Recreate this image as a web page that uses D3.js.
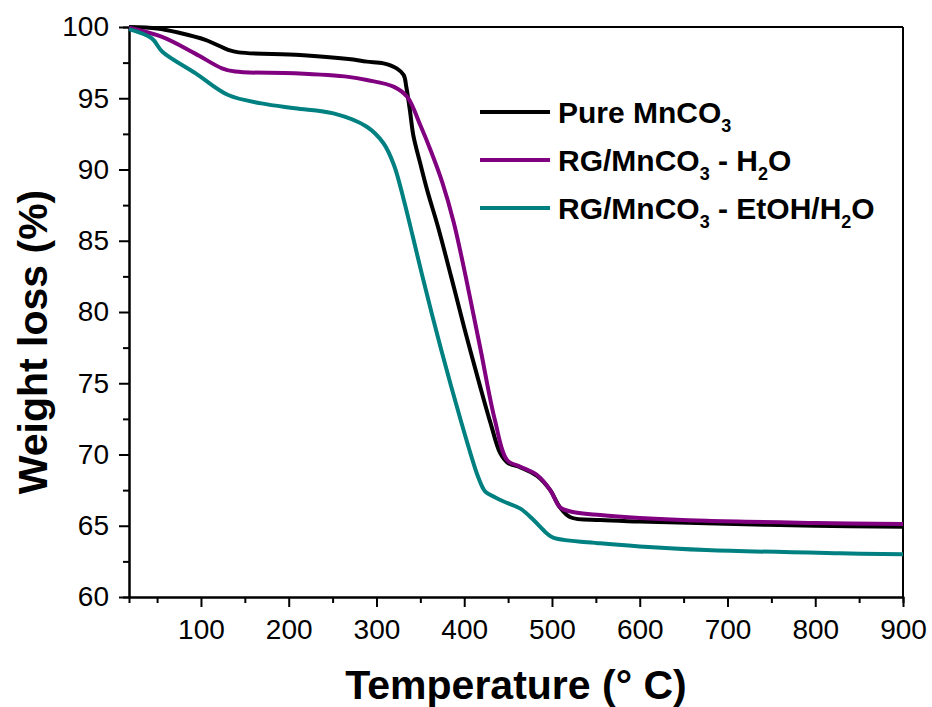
<!DOCTYPE html>
<html>
<head>
<meta charset="utf-8">
<script src="https://cdn.jsdelivr.net/npm/d3@7"></script>
<style>
  body { margin: 0; background: #fff; }
  svg { display: block; font-family: "Liberation Sans", Arial, sans-serif; }
  .axis path, .axis line { stroke: #000; stroke-width: 2; }
  .axis text { font-size: 28px; fill: #000; }
</style>
</head>
<body>
<svg id="chart" width="932" height="707"></svg>
<script>
// temperature (°C) / weight (%)
var pureT = [18, 50, 75, 105, 131, 143, 213, 268, 289, 308, 323, 331, 334, 338, 342, 350, 358, 370, 385, 400, 418, 430, 441, 450, 464, 483, 498, 509, 521, 555, 600, 676, 800, 900];
var pureW = [100, 99.9, 99.6, 99.1, 98.4, 98.22, 98.03, 97.75, 97.57, 97.45, 97.1, 96.63, 95.8, 94.2, 92.4, 90.4, 88.5, 86.0, 82.5, 78.9, 74.8, 72.2, 70.1, 69.4, 69.1, 68.5, 67.5, 66.3, 65.6, 65.4, 65.3, 65.17, 65.0, 64.93];

var h2oT = [18, 55, 93, 124, 139, 207, 268, 289, 320, 335, 350, 362, 375, 388, 403, 418, 435, 449, 464, 483, 498, 509, 521, 555, 600, 676, 800, 900];
var h2oW = [99.95, 99.32, 98.15, 97.1, 96.87, 96.75, 96.5, 96.28, 95.8, 95.1, 93.1, 91.3, 89.1, 86.3, 82.1, 77.56, 72.4, 69.6, 69.14, 68.56, 67.5, 66.3, 66.0, 65.75, 65.55, 65.35, 65.2, 65.12];

var etohT = [18, 44, 56, 94, 131, 169, 207, 251, 289, 308, 320, 331, 341, 352, 363, 374, 385, 396, 407, 416, 424, 435, 445, 464, 479, 494, 502, 555, 600, 676, 828, 900];
var etohW = [99.85, 99.2, 98.27, 96.75, 95.23, 94.64, 94.3, 93.94, 93.0, 91.84, 90.3, 87.9, 85.4, 82.6, 79.9, 77.3, 74.8, 72.4, 70.1, 68.4, 67.4, 67.0, 66.7, 66.2, 65.4, 64.47, 64.15, 63.77, 63.55, 63.3, 63.07, 63.0];

var seriesNames = ["Pure MnCO", "RG/MnCO", "RG/MnCO"];
var seriesColors = ["#000000", "#800080", "#008080"];

var xTicks = [100, 200, 300, 400, 500, 600, 700, 800, 900];
var yTicks = [60, 65, 70, 75, 80, 85, 90, 95, 100];

var svg = d3.select("#chart");
var margin = {left: 129, right: 29, top: 27, bottom: 110};
var width = 932 - margin.left - margin.right,
    height = 707 - margin.top - margin.bottom;

var g = svg.append("g").attr("transform", "translate(" + margin.left + "," + margin.top + ")");

var x = d3.scaleLinear().domain([18, 900]).range([0, width]);
var y = d3.scaleLinear().domain([60, 100]).range([height, 0]);

// minor ticks first
g.append("g")
    .attr("class", "axis")
    .attr("transform", "translate(0," + height + ")")
    .call(d3.axisBottom(x).tickValues(d3.range(50, 900, 100)).tickSize(6).tickFormat(""));
g.append("g")
    .attr("class", "axis")
    .call(d3.axisLeft(y).tickValues(d3.range(62.5, 100, 5)).tickSize(6).tickFormat(""));

g.append("g")
    .attr("class", "axis")
    .attr("transform", "translate(0," + height + ")")
    .call(d3.axisBottom(x).tickValues(xTicks).tickSize(10).tickPadding(12).tickSizeOuter(0));
g.append("g")
    .attr("class", "axis")
    .call(d3.axisLeft(y).tickValues(yTicks).tickSize(10).tickPadding(10).tickSizeOuter(0));

// top and right frame
g.append("line").attr("x1", 0).attr("x2", width).attr("y1", 0).attr("y2", 0)
    .attr("stroke", "#000").attr("stroke-width", 2);
g.append("line").attr("x1", width).attr("x2", width).attr("y1", 0).attr("y2", height)
    .attr("stroke", "#000").attr("stroke-width", 2);

var line = d3.line()
    .x(function(d) { return x(d[0]); })
    .y(function(d) { return y(d[1]); })
    .curve(d3.curveCatmullRom.alpha(0.5));

var allData = [d3.zip(pureT, pureW), d3.zip(h2oT, h2oW), d3.zip(etohT, etohW)];

g.selectAll(".curve")
    .data(allData)
    .enter()
    .append("path")
    .attr("class", "curve")
    .attr("d", line)
    .attr("fill", "none")
    .attr("stroke", function(d, i) { return seriesColors[i]; })
    .attr("stroke-width", 4)
    .attr("stroke-linejoin", "round");

// axis titles
svg.append("text")
    .text("Temperature (° C)")
    .attr("x", margin.left + width / 2)
    .attr("y", 699)
    .attr("text-anchor", "middle")
    .attr("font-weight", "bold")
    .attr("font-size", "41px");

svg.append("text")
    .text("Weight loss (%)")
    .attr("transform", "translate(47," + 342 + ") rotate(-90)")
    .attr("text-anchor", "middle")
    .attr("font-weight", "bold")
    .attr("font-size", "41px");

// legend
var legend = svg.append("g").attr("transform", "translate(480,112)");
var rowH = 48;

seriesColors.forEach(function(c, i) {
    legend.append("line")
        .attr("x1", 0).attr("x2", 70)
        .attr("y1", i * rowH).attr("y2", i * rowH)
        .attr("stroke", c)
        .attr("stroke-width", 4);

    var t = legend.append("text")
        .attr("x", 78)
        .attr("y", i * rowH + 11)
        .attr("font-weight", "bold")
        .attr("font-size", "30px");
    t.append("tspan").text(seriesNames[i]);
    t.append("tspan").text("3").attr("font-size", "18px").attr("dy", 9);
    if (i == 1) {
        t.append("tspan").text(" - H").attr("dy", -9);
        t.append("tspan").text("2").attr("font-size", "18px").attr("dy", 9);
        t.append("tspan").text("O").attr("dy", -9);
    }
    if (i == 2) {
        t.append("tspan").text(" - EtOH/H").attr("dy", -9);
        t.append("tspan").text("2").attr("font-size", "18px").attr("dy", 9);
        t.append("tspan").text("O").attr("dy", -9);
    }
});
</script>
</body>
</html>
